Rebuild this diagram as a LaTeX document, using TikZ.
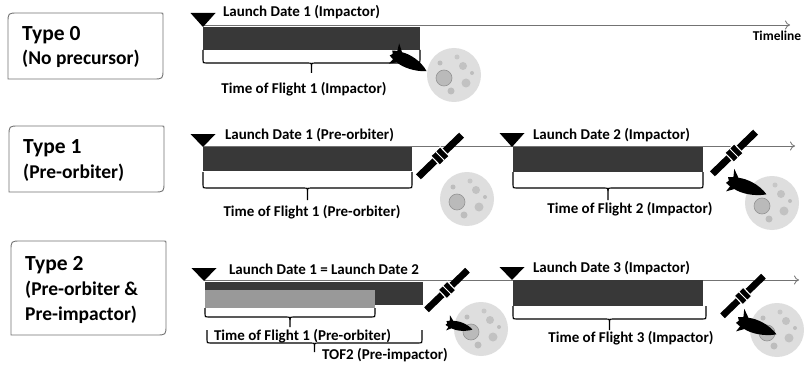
\documentclass[tikz,border=0pt]{standalone}
\usepackage{fontspec}
\setmainfont{Carlito}
\usetikzlibrary{arrows.meta}

\tikzset{
  typebox/.style={draw=black!55, line width=0.9pt},
  typetitle/.style={anchor=west, inner sep=0pt, text height=15pt, text depth=4pt,
    font=\bfseries\fontsize{21.5}{24}\selectfont},
  typesub/.style={anchor=west, inner sep=0pt, text height=14pt, text depth=4pt,
    font=\bfseries\fontsize{19.5}{23}\selectfont},
  timeline/.style={draw=black!55, line width=0.8pt, -{To[length=5pt,width=9pt]}},
  launchmark/.style={fill=black},
  darkbar/.style={fill=black!78},
  lightbar/.style={fill=black!40},
  bracestyle/.style={draw=black, line width=1.1pt},
  lbl/.style={anchor=center, inner sep=0pt, text height=11pt, text depth=3.5pt,
    font=\bfseries\fontsize{15}{18}\selectfont},
  smalllbl/.style={anchor=center, inner sep=0pt, text height=10pt, text depth=3pt,
    font=\bfseries\fontsize{13.5}{16}\selectfont},
  moon/.pic={
    \fill[black!13] (0,0) circle (27);
    \fill[black!27] (-10,3) circle (8);
    \draw[black!42, line width=0.6pt] (-10,3) circle (8);
    \fill[black!24] (9,-9) circle (4);
    \fill[black!24] (12,8) circle (4.5);
    \fill[black!26] (-3,16) circle (3.5);
    \fill[black!26] (-14,-12) circle (2.5);
    \fill[black!22] (3,-18) circle (2.5);
    \fill[black!26] (18,-2) circle (2);
  },
  rocket/.pic={
    \fill[black] (42,0) .. controls (32,-7) and (18,-8) .. (10,-6)
      -- (3,-13) -- (5,-5) -- (0,-3) -- (2,0) -- (0,3) -- (5,5) -- (3,11)
      -- (10,6) .. controls (18,8) and (32,6) .. (42,0) -- cycle;
  },
  satellite/.pic={
    \fill[black] (-30,-3.5) rectangle (-6,3.5);
    \fill[black] (6,-3.5) rectangle (30,3.5);
    \filldraw[fill=black, draw=white, line width=1.1pt] (-6.5,-6.5) rectangle (6.5,6.5);
    \draw[white, line width=0.9pt] (0,-6.5) -- (0,6.5);
  }
}

% rounded-diagonal frame: x1, y1, x2, y2
\newcommand{\typeframe}[4]{%
  \draw[typebox] (#1,#4) -- (#1,#2+10) .. controls (#1,#2) .. (#1+10,#2)
    -- (#3-2,#2) .. controls (#3,#2) .. (#3,#2+2)
    -- (#3,#4-10) .. controls (#3,#4) .. (#3-10,#4) -- cycle;}

% flight-time brace: x1, x2, top, bar line, tip
\newcommand{\tofbrace}[5]{%
  \pgfmathsetmacro\bmid{(#1+#2)/2}%
  \draw[bracestyle] (#1,#3) -- (#1,#4-3) .. controls (#1,#4) .. (#1+3,#4)
    -- (\bmid-3,#4) .. controls (\bmid,#4) .. (\bmid,#4+3) -- (\bmid,#5);
  \draw[bracestyle] (#2,#3) -- (#2,#4-3) .. controls (#2,#4) .. (#2-3,#4)
    -- (\bmid+3,#4) .. controls (\bmid,#4) .. (\bmid,#4+3);}

% launch marker: tip x, tip y, top y
\newcommand{\launchtri}[3]{%
  \fill[launchmark] (#1-12.5,#3) -- (#1+12.5,#3) -- (#1,#2) -- cycle;}

\begin{document}
\begin{tikzpicture}[x=1pt,y=-1pt]
\useasboundingbox (0,0) rectangle (804,369);
\fill[white] (0,0) rectangle (804,369);

% ---------------- Type 0 ----------------
\typeframe{8}{13}{163}{79}
\node[typetitle] (ty0) at (22,35) {Type 0};
\node[typesub] (ty0s) at (22,60) {(No precursor)};

\coordinate (l0s) at (203,25);
\coordinate (l0e) at (790,25);
\draw[timeline] (l0s) -- (l0e);
\node[smalllbl] (tl) at (777,37) {Timeline};

\fill[darkbar] (203,27) rectangle (420,50);
\launchtri{203}{27}{13}
\node[lbl] (ld01) at (301.5,13) {Launch Date 1 (Impactor)};
\tofbrace{203}{420}{50}{63}{73}
\node[lbl] (tof01) at (304,90) {Time of Flight 1 (Impactor)};
\pic at (454,75) {moon};
\pic[rotate=-27, scale=0.95] at (391,53) {rocket};

% ---------------- Type 1 ----------------
\typeframe{9}{126}{164}{192}
\node[typetitle] (ty1) at (23,148) {Type 1};
\node[typesub] (ty1s) at (23,173) {(Pre-orbiter)};

\coordinate (l1s) at (203,146);
\coordinate (l1e) at (795,146);
\draw[timeline] (l1s) -- (l1e);

\fill[darkbar] (203,147) rectangle (412,171);
\launchtri{203}{147}{134}
\node[lbl] (ld11) at (309.5,136) {Launch Date 1 (Pre-orbiter)};
\tofbrace{203}{412}{172}{188}{200}
\node[lbl] (tof11) at (312,213) {Time of Flight 1 (Pre-orbiter)};
\pic at (467,199) {moon};
\pic[rotate=44] at (440,156) {satellite};

\fill[darkbar] (513,147) rectangle (703,172);
\launchtri{512}{147}{133}
\node[lbl] (ld12) at (611.5,136) {Launch Date 2 (Impactor)};
\tofbrace{513}{703}{172}{188}{200}
\node[lbl] (tof12) at (630,210) {Time of Flight 2 (Impactor)};
\pic at (772,203) {moon};
\pic[rotate=44] at (734,153) {satellite};
\pic[rotate=-20] at (727,180) {rocket};

% ---------------- Type 2 ----------------
\typeframe{11}{241}{166}{335}
\node[typetitle] (ty2) at (25,265) {Type 2};
\node[typesub] (ty2s) at (25,290) {(Pre-orbiter \&};
\node[typesub] (ty2t) at (25,315) {Pre-impactor)};

\coordinate (l2s) at (204,280);
\coordinate (l2e) at (799,280);
\draw[timeline] (l2s) -- (l2e);

\fill[darkbar] (205,282) rectangle (423,305);
\fill[lightbar] (205,290) rectangle (375,308);
\launchtri{204}{281}{268}
\node[lbl] (ld21) at (324,271) {Launch Date 1 = Launch Date 2};
\tofbrace{205}{375}{308}{317}{327}
\node[lbl] (tof21) at (302.5,337) {Time of Flight 1 (Pre-orbiter)};
\tofbrace{207}{422}{330}{343}{352}
\node[lbl] (tof22) at (385,356) {TOF2 (Pre-impactor)};
\pic at (481,329) {moon};
\pic[rotate=44, scale=0.95] at (447,290) {satellite};
\pic[rotate=-14, scale=0.65] at (446,323) {rocket};

\fill[darkbar] (513,280) rectangle (703,306);
\launchtri{512}{280}{267}
\node[lbl] (ld22) at (611.5,269) {Launch Date 3 (Impactor)};
\tofbrace{513}{706}{306}{319}{330}
\node[lbl] (tof23) at (631,339) {Time of Flight 3 (Impactor)};
\pic at (777,330) {moon};
\pic[rotate=44, scale=0.95] at (743,296) {satellite};
\pic[rotate=-20] at (737,320) {rocket};

\end{tikzpicture}
\end{document}
